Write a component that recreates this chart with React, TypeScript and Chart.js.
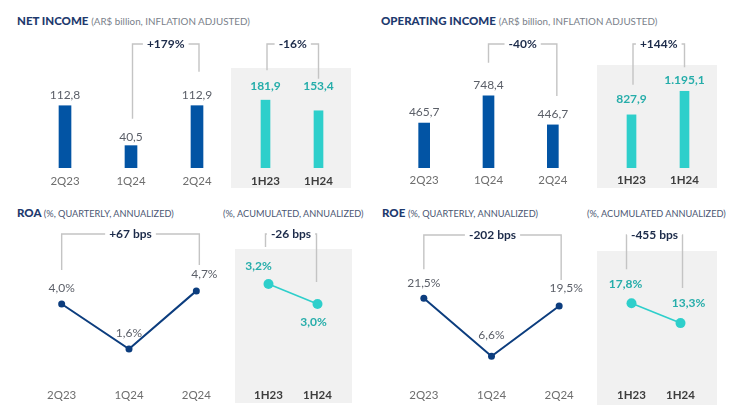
import React, { useEffect, useRef } from "react";
import { Chart, registerables } from "chart.js";

Chart.register(...registerables);

// ---------- DATA ----------
const quarterLabels = ["2Q23", "1Q24", "2Q24"];
const halfLabels = ["1H23", "1H24"];

const netIncomeQuarterly = [112.8, 40.5, 112.9];
const netIncomeHalf = [181.9, 153.4];
const operatingIncomeQuarterly = [465.7, 748.4, 446.7];
const operatingIncomeHalf = [827.9, 1195.1];
const roaQuarterly = [4.0, 1.6, 4.7];
const roaHalf = [3.2, 3.0];
const roeQuarterly = [21.5, 6.6, 19.5];
const roeHalf = [17.8, 13.3];

const netIncomeChanges = ["+179%", "-16%"];
const operatingIncomeChanges = ["-40%", "+144%"];
const roaChanges = ["+67 bps", "-26 bps"];
const roeChanges = ["-202 bps", "-455 bps"];

// ---------- STYLE ----------
const FONT = "Lato, 'Open Sans', sans-serif";
const BLUE = "#0254A4";
const NAVY = "#0C3D7E";
const TEAL = "#2ECFCB";
const TEAL_TEXT = "#26ADAA";
const GREY_TEXT = "#5b5f68";
const AXIS_H = 30;
const EXTRA_TOP = 24;

function fmt(v: number, pct: boolean) {
  const [i, d] = v.toFixed(1).split(".");
  const ig = i.replace(/\B(?=(\d{3})+(?!\d))/g, ".");
  return ig + "," + d + (pct ? "%" : "");
}

type Cfg = {
  type: "bar" | "line";
  labels: string[];
  values: number[];
  half: boolean;
  pct: boolean;
  left: number;
  top: number;
  width: number;
  height: number;
  min: number;
  max: number;
  barW?: number;
  tickPad: number;
  labelOffsets: [number, number][];
  bracket: { text: string; from: number; to: number; y: number; gaps: [number, number]; dx: [number, number] };
};

function makeAnnot(cfg: Cfg) {
  return {
    id: "annot",
    afterDatasetsDraw(chart: any) {
      const ctx = chart.ctx as CanvasRenderingContext2D;
      const meta = chart.getDatasetMeta(0);
      ctx.save();
      // value labels
      ctx.textAlign = "center";
      ctx.textBaseline = "middle";
      ctx.font = cfg.half ? `bold 12px ${FONT}` : `12px ${FONT}`;
      ctx.fillStyle = cfg.half ? TEAL_TEXT : GREY_TEXT;
      meta.data.forEach((el: any, i: number) => {
        const [dx, dy] = cfg.labelOffsets[i];
        ctx.fillText(fmt(cfg.values[i], cfg.pct), el.x + dx, el.y + dy);
      });
      // bracket
      const b = cfg.bracket;
      const x1 = meta.data[b.from].x + b.dx[0];
      const x2 = meta.data[b.to].x + b.dx[1];
      const y1 = meta.data[b.from].y - b.gaps[0];
      const y2 = meta.data[b.to].y - b.gaps[1];
      const by = b.y - (cfg.top - EXTRA_TOP);
      ctx.font = `bold 12px ${FONT}`;
      const tw = ctx.measureText(b.text).width;
      const mid = (x1 + x2) / 2;
      ctx.strokeStyle = "#c4c4c4";
      ctx.lineWidth = 1.4;
      ctx.beginPath();
      ctx.moveTo(x1, y1);
      ctx.lineTo(x1, by);
      ctx.lineTo(mid - tw / 2 - 4, by);
      ctx.moveTo(mid + tw / 2 + 4, by);
      ctx.lineTo(x2, by);
      ctx.lineTo(x2, y2);
      ctx.stroke();
      ctx.fillStyle = "#1c2b4a";
      ctx.fillText(b.text, mid, by + 0.5);
      ctx.restore();
    },
  };
}

const charts: Cfg[] = [
  {
    type: "bar", labels: quarterLabels, values: netIncomeQuarterly, half: false, pct: false,
    left: 32, top: 30, width: 198, height: 138, min: 0, max: 250, barW: 12, tickPad: 6,
    labelOffsets: [[0, -11], [0, -9], [0, -11]],
    bracket: { text: netIncomeChanges[0], from: 1, to: 2, y: 44, gaps: [27, 34], dx: [1.5, 2] },
  },
  {
    type: "bar", labels: halfLabels, values: netIncomeHalf, half: true, pct: false,
    left: 239, top: 30, width: 106, height: 138, min: 0, max: 370, barW: 9, tickPad: 6,
    labelOffsets: [[0, -14], [0, -25]],
    bracket: { text: netIncomeChanges[1], from: 0, to: 1, y: 44, gaps: [30, 32], dx: [1.5, 0] },
  },
  {
    type: "bar", labels: quarterLabels, values: operatingIncomeQuarterly, half: false, pct: false,
    left: 392, top: 30, width: 193, height: 138, min: 0, max: 1430, barW: 11, tickPad: 5,
    labelOffsets: [[0, -11], [0, -11], [0, -11]],
    bracket: { text: operatingIncomeChanges[0], from: 1, to: 2, y: 44, gaps: [33, 29], dx: [0, 4] },
  },
  {
    type: "bar", labels: halfLabels, values: operatingIncomeHalf, half: true, pct: false,
    left: 605, top: 30, width: 106, height: 138, min: 0, max: 2150, barW: 9, tickPad: 5,
    labelOffsets: [[0, -16], [0, -11]],
    bracket: { text: operatingIncomeChanges[1], from: 0, to: 1, y: 44, gaps: [30, 24], dx: [1.5, 0] },
  },
  {
    type: "line", labels: quarterLabels, values: roaQuarterly, half: false, pct: true,
    left: 24, top: 229, width: 210, height: 150, min: 0, max: 8, tickPad: 9,
    labelOffsets: [[0, -16], [0, -16], [8, -17]],
    bracket: { text: roaChanges[0], from: 0, to: 2, y: 234, gaps: [34, 26], dx: [0, 3] },
  },
  {
    type: "line", labels: halfLabels, values: roaHalf, half: true, pct: true,
    left: 239, top: 229, width: 108, height: 150, min: 2.25, max: 3.75, tickPad: 9,
    labelOffsets: [[-10, -18], [-4, 18]],
    bracket: { text: roaChanges[1], from: 0, to: 1, y: 234, gaps: [37, 22], dx: [-3, -1] },
  },
  {
    type: "line", labels: quarterLabels, values: roeQuarterly, half: false, pct: true,
    left: 386, top: 226, width: 211, height: 156, min: 0, max: 40, tickPad: 6,
    labelOffsets: [[0, -15], [0, -21], [7, -18]],
    bracket: { text: roeChanges[0], from: 0, to: 2, y: 235, gaps: [29, 26], dx: [0, 2] },
  },
  {
    type: "line", labels: halfLabels, values: roeHalf, half: true, pct: true,
    left: 602, top: 227, width: 108, height: 155, min: 0, max: 35, tickPad: 6,
    labelOffsets: [[-6, -19], [8, -20]],
    bracket: { text: roeChanges[1], from: 0, to: 1, y: 235, gaps: [34, 35], dx: [-5, 2] },
  },
];

function SubChart({ cfg }: { cfg: Cfg }) {
  const ref = useRef<HTMLCanvasElement>(null);
  useEffect(() => {
    if (!ref.current) return;
    const color = cfg.half ? TEAL : cfg.type === "bar" ? BLUE : NAVY;
    const dataset: any =
      cfg.type === "bar"
        ? { data: cfg.values, backgroundColor: color, borderWidth: 0, barThickness: cfg.barW }
        : {
            data: cfg.values,
            borderColor: color,
            borderWidth: cfg.half ? 1.6 : 2,
            pointRadius: cfg.half ? 5 : 3.5,
            pointBackgroundColor: color,
            pointBorderWidth: 0,
            tension: 0,
            clip: false,
          };
    const chart = new Chart(ref.current, {
      type: cfg.type,
      data: { labels: cfg.labels, datasets: [dataset] },
      options: {
        responsive: false,
        maintainAspectRatio: false,
        animation: false,
        layout: { padding: { top: EXTRA_TOP, left: 0, right: 0, bottom: 0 } },
        plugins: { legend: { display: false }, tooltip: { enabled: false } },
        scales: {
          x: {
            offset: true,
            grid: { display: false, drawTicks: false },
            border: { display: false },
            ticks: {
              padding: cfg.tickPad,
              color: cfg.half ? "#3d3d3d" : "#6e6e6e",
              font: { family: FONT, size: 11.5, weight: cfg.half ? "bold" : "normal" },
              maxRotation: 0,
            },
            afterFit: (s: any) => {
              s.height = AXIS_H;
            },
          },
          y: { display: false, min: cfg.min, max: cfg.max },
        },
      } as any,
      plugins: [makeAnnot(cfg)],
    });
    return () => chart.destroy();
  }, [cfg]);
  const h = cfg.height + AXIS_H + EXTRA_TOP;
  return (
    <canvas
      ref={ref}
      width={cfg.width}
      height={h}
      style={{ position: "absolute", left: cfg.left, top: cfg.top - EXTRA_TOP, width: cfg.width, height: h }}
    />
  );
}

const grayBoxes = [
  { left: 231, top: 68, width: 120, height: 120 },
  { left: 597, top: 65, width: 120, height: 123 },
  { left: 235, top: 249, width: 117, height: 154 },
  { left: 597, top: 251, width: 120, height: 154 },
];

function Title({ left, top, bold, rest, small }: { left: number; top: number; bold: string; rest: string; small?: boolean }) {
  return (
    <div
      style={{
        position: "absolute",
        left,
        top,
        fontFamily: FONT,
        whiteSpace: "nowrap",
        lineHeight: "14px",
      }}
    >
      {bold && <span style={{ fontWeight: 900, fontSize: 11.5, color: "#1E3A6E" }}>{bold} </span>}
      <span style={{ fontSize: small ? 9.2 : 9.8, color: small ? "#4a5672" : "#7a7f8a" }}>{rest}</span>
    </div>
  );
}

export default function App() {
  return (
    <div style={{ position: "fixed", left: 0, top: 0, width: 733, height: 410, background: "#fff", overflow: "hidden" }}>
      {grayBoxes.map((g, i) => (
        <div key={i} style={{ position: "absolute", ...g, background: "#F1F1F1" }} />
      ))}
      <Title left={17} top={12} bold="NET INCOME" rest="(AR$ billion, INFLATION ADJUSTED)" />
      <Title left={381} top={12} bold="OPERATING INCOME" rest="(AR$ billion, INFLATION ADJUSTED)" />
      <Title left={17} top={204} bold="ROA" rest="(%, QUARTERLY, ANNUALIZED)" small />
      <Title left={223} top={204} bold="" rest="(%, ACUMULATED, ANNUALIZED)" small />
      <Title left={382} top={204} bold="ROE" rest="(%, QUARTERLY, ANNUALIZED)" small />
      <Title left={587} top={204} bold="" rest="(%, ACUMULATED ANNUALIZED)" small />
      {charts.map((c, i) => (
        <SubChart key={i} cfg={c} />
      ))}
    </div>
  );
}
